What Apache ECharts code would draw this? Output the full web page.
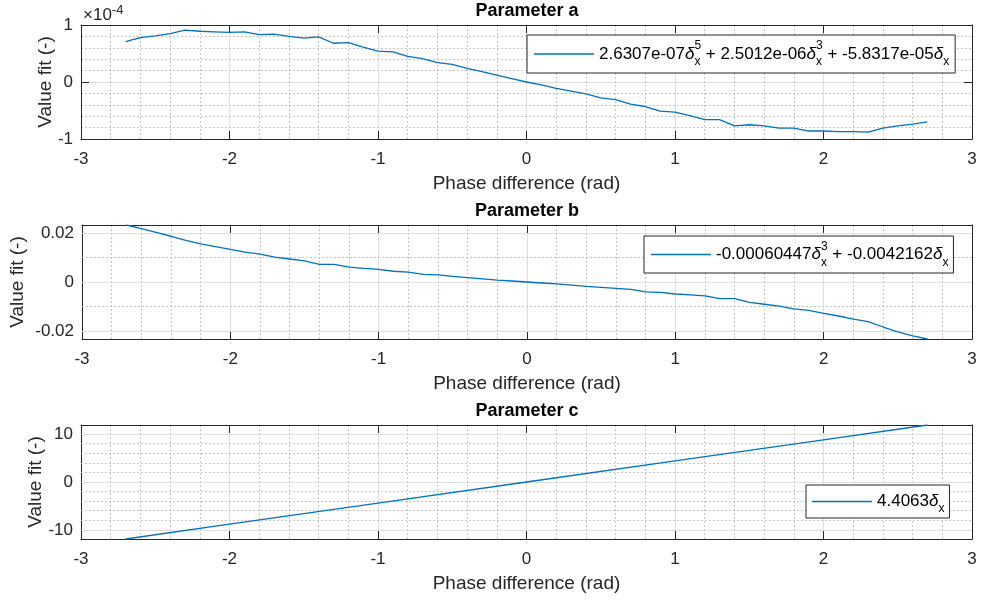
<!DOCTYPE html>
<html>
<head>
<meta charset="utf-8">
<title>Fit parameters vs phase difference</title>
<script src="https://cdn.jsdelivr.net/npm/echarts@6/dist/echarts.min.js"></script>
<style>
  html, body { margin: 0; padding: 0; background: #fff; }
  #chart { width: 983px; height: 600px; }
</style>
</head>
<body>
<div id="chart"></div>
<script>
// sample points (rad)
const PHASE = [-2.7, -2.6, -2.5, -2.4, -2.3, -2.2, -2.1, -2, -1.9, -1.8, -1.7, -1.6, -1.5, -1.4,
  -1.3, -1.2, -1.1, -1, -0.9, -0.8, -0.7, -0.6, -0.5, -0.4, -0.3, -0.2, -0.1, 0,
  0.1, 0.2, 0.3, 0.4, 0.5, 0.6, 0.7, 0.8, 0.9, 1, 1.1, 1.2, 1.3, 1.4,
  1.5, 1.6, 1.7, 1.8, 1.9, 2, 2.1, 2.2, 2.3, 2.4, 2.5, 2.6, 2.7];

// parameter a, in units of 1e-4 (axis shows x10^-4)
const PARAM_A = [0.71, 0.78, 0.81, 0.85, 0.91, 0.89, 0.88, 0.87, 0.88, 0.83, 0.84, 0.80, 0.77, 0.79,
  0.68, 0.69, 0.61, 0.54, 0.53, 0.45, 0.41, 0.34, 0.31, 0.24, 0.18, 0.12, 0.06, 0.00,
  -0.05, -0.11, -0.16, -0.21, -0.28, -0.31, -0.39, -0.43, -0.51, -0.53, -0.59, -0.66, -0.66, -0.77,
  -0.75, -0.77, -0.81, -0.81, -0.86, -0.86, -0.87, -0.87, -0.88, -0.81, -0.77, -0.74, -0.70];

// parameter b
const PARAM_B = [0.0233, 0.0218, 0.0203, 0.0187, 0.0170, 0.0156, 0.0145, 0.0133, 0.0122, 0.0114, 0.0102, 0.0094, 0.0086, 0.0072,
  0.0072, 0.0061, 0.0056, 0.0052, 0.0044, 0.0040, 0.0031, 0.0029, 0.0023, 0.0018, 0.0013, 0.0008, 0.0004, 0,
  -0.0004, -0.0008, -0.0013, -0.0018, -0.0022, -0.0026, -0.0030, -0.0040, -0.0042, -0.0049, -0.0053, -0.0057, -0.0068, -0.0068,
  -0.0083, -0.0091, -0.0099, -0.0110, -0.0116, -0.0128, -0.0139, -0.0152, -0.0162, -0.0184, -0.0204, -0.0220, -0.0233];

// parameter c (straight line)
const PHASE_C = [-2.7, -2, -1, 0, 1, 2, 2.7];
const PARAM_C = [-11.9, -8.8, -4.4, 0, 4.4, 8.8, 11.9];

// tick values for the tight y axes
const B_YTICKS = [-0.02, 0, 0.02];
const B_YMINOR = [-0.015, -0.01, -0.005, 0.005, 0.01, 0.015];
const C_YTICKS = [-10, 0, 10];
const C_YMINOR = [-8, -6, -4, -2, 2, 4, 6, 8];

// fit terms: [coefficient, power of delta_x]
const TERMS_A = [['2.6307e-07', 5], ['2.5012e-06', 3], ['-5.8317e-05', 1]];
const TERMS_B = [['-0.00060447', 3], ['-0.0042162', 1]];
const TERMS_C = [['4.4063', 1]];

const TITLES = ['Parameter a', 'Parameter b', 'Parameter c'];

const FONT = '"Liberation Sans", Arial, sans-serif';
const AX = '#262626';
const BLUE = '#0072BD';
const MAJOR = '#dedede';
const MINOR = '#c6c6c6';
const GRID_TOPS = [25, 225, 425];

function plainName(terms) {
  return terms.map(([c, p]) => c + 'δx' + (p > 1 ? '^' + p : '')).join(' + ');
}
function richName(terms) {
  return terms.map(([c, p]) => {
    let s = '{t|' + c + '}{d|δ}';
    s += p > 1 ? '{subz|x}{sup|' + p + '}' : '{sub|x}';
    return s;
  }).join('{t| + }');
}

const NAME_A = plainName(TERMS_A);
const NAME_B = plainName(TERMS_B);
const NAME_C = plainName(TERMS_C);
const RICH = {};
RICH[NAME_A] = richName(TERMS_A);
RICH[NAME_B] = richName(TERMS_B);
RICH[NAME_C] = richName(TERMS_C);

function legendRich(lh) {
  return {
    t: { fontSize: 17, fontFamily: FONT, color: '#000', lineHeight: lh, verticalAlign: 'middle' },
    d: { fontSize: 17, fontFamily: FONT, color: '#000', fontStyle: 'italic', lineHeight: lh, verticalAlign: 'middle' },
    sub: { fontSize: 12, fontFamily: FONT, color: '#000', lineHeight: 12, verticalAlign: 'bottom' },
    subz: { fontSize: 12, fontFamily: FONT, color: '#000', lineHeight: 12, verticalAlign: 'bottom', width: 0 },
    sup: { fontSize: 12, fontFamily: FONT, color: '#000', lineHeight: 12, verticalAlign: 'top' }
  };
}

function legendBox(name, left, top, lh, pad) {
  return {
    data: [name],
    left: left,
    top: top,
    z: 20,
    orient: 'horizontal',
    icon: 'rect',
    itemWidth: 60,
    itemHeight: 1.3,
    itemStyle: { color: BLUE, borderWidth: 0 },
    selectedMode: false,
    backgroundColor: '#fff',
    borderColor: AX,
    borderWidth: 1,
    borderRadius: 0,
    padding: pad,
    formatter: n => RICH[n],
    textStyle: { fontFamily: FONT, fontSize: 17, color: '#000', lineHeight: lh, rich: legendRich(lh) }
  };
}

function xAxes(i) {
  return [{
    gridIndex: i, type: 'value', min: -3, max: 3, interval: 1,
    name: 'Phase difference (rad)', nameLocation: 'middle', nameGap: 35,
    nameTextStyle: { fontSize: 19, color: AX, fontFamily: FONT },
    axisLine: { show: true, onZero: false, lineStyle: { color: AX } },
    axisTick: { show: true, inside: true, length: 8, lineStyle: { color: AX } },
    axisLabel: { fontSize: 17, color: AX, margin: 12, fontFamily: FONT },
    splitLine: { show: true, lineStyle: { color: MAJOR } },
    minorTick: { show: false, splitNumber: 5 },
    minorSplitLine: { show: true, lineStyle: { color: MINOR, type: [2, 2] } }
  }, {
    gridIndex: i, type: 'value', position: 'top', min: -3, max: 3, interval: 1,
    axisLine: { show: true, onZero: false, lineStyle: { color: AX } },
    axisTick: { show: true, inside: true, length: 8, lineStyle: { color: AX } },
    axisLabel: { show: false },
    splitLine: { show: false }
  }];
}

function yAxes(i, opts) {
  const left = {
    gridIndex: i, type: 'value', position: 'left', min: opts.min, max: opts.max,
    name: 'Value fit (-)', nameLocation: 'middle', nameGap: opts.nameGap, nameMoveOverlap: false,
    nameTextStyle: { fontSize: 19, color: AX, fontFamily: FONT },
    axisLine: { show: true, onZero: false, lineStyle: { color: AX } },
    axisTick: { show: true, inside: true, length: 8, lineStyle: { color: AX } },
    axisLabel: { fontSize: 17, color: AX, margin: 8, fontFamily: FONT },
    splitLine: { show: false }
  };
  const right = {
    gridIndex: i, type: 'value', position: 'right', min: opts.min, max: opts.max,
    axisLine: { show: true, onZero: false, lineStyle: { color: AX } },
    axisTick: { show: true, inside: true, length: 8, lineStyle: { color: AX } },
    axisLabel: { show: false },
    splitLine: { show: false }
  };
  if (opts.ticks) {
    left.axisLabel.customValues = opts.ticks;
    left.axisTick.customValues = opts.ticks;
    right.axisLabel.customValues = opts.ticks;
    right.axisTick.customValues = opts.ticks;
  } else {
    left.interval = opts.interval;
    right.interval = opts.interval;
    left.splitLine = { show: true, lineStyle: { color: MAJOR } };
    left.minorTick = { show: false, splitNumber: 5 };
    left.minorSplitLine = { show: true, lineStyle: { color: MINOR, type: [2, 2] } };
  }
  return [left, right];
}

// y grid lines for the tight axes, drawn through the axis scale
function gridLines(i, major, minor) {
  return {
    type: 'line', xAxisIndex: 2 * i, yAxisIndex: 2 * i, data: [], silent: true, z: 1,
    animation: false,
    markLine: {
      symbol: ['none', 'none'], silent: true, animation: false, label: { show: false }, z: 1,
      data: major.map(v => ({ yAxis: v, lineStyle: { color: MAJOR, type: 'solid', width: 1 } }))
        .concat(minor.map(v => ({ yAxis: v, lineStyle: { color: MINOR, type: [2, 2], width: 1 } })))
    }
  };
}

function dataSeries(i, name, xs, ys) {
  return {
    type: 'line', name: name, xAxisIndex: 2 * i, yAxisIndex: 2 * i,
    data: xs.map((x, k) => [x, ys[k]]),
    symbol: 'none', z: 3, animation: false,
    lineStyle: { width: 1.3, color: BLUE, type: 'solid' },
    itemStyle: { color: BLUE }
  };
}

const chart = echarts.init(document.getElementById('chart'), null, { renderer: 'canvas' });

const option = {
  backgroundColor: '#fff',
  animation: false,
  grid: GRID_TOPS.map(t => ({ left: 81, width: 891, top: t, height: 114 })),
  xAxis: [].concat(xAxes(0), xAxes(1), xAxes(2)),
  yAxis: [].concat(
    yAxes(0, { min: -1, max: 1, interval: 1, nameGap: 26 }),
    yAxes(1, { min: -0.0233, max: 0.0233, ticks: B_YTICKS, nameGap: 55 }),
    yAxes(2, { min: -11.9, max: 11.9, ticks: C_YTICKS, nameGap: 36 })
  ),
  legend: [
    legendBox(NAME_A, 527, 35, 28, [5, 6, 5, 7]),
    legendBox(NAME_B, 644, 236, 28, [4.5, 5, 4.5, 7]),
    legendBox(NAME_C, 806, 485, 26, [3.5, 5, 3.5, 6])
  ],
  graphic: TITLES.map((t, i) => ({
    type: 'text', x: 527, y: GRID_TOPS[i] - 14,
    style: { text: t, font: 'bold 18px ' + FONT, fill: '#000', align: 'center', verticalAlign: 'middle' }
  })).concat([{
    type: 'text', x: 83, y: 4,
    style: {
      text: '{m|×10}{e|-4}', align: 'left', verticalAlign: 'top',
      rich: {
        m: { fontSize: 17, fontFamily: FONT, fill: AX, lineHeight: 22, verticalAlign: 'middle' },
        e: { fontSize: 13, fontFamily: FONT, fill: AX, lineHeight: 10, verticalAlign: 'top' }
      }
    }
  }]),
  series: [
    gridLines(1, B_YTICKS, B_YMINOR),
    gridLines(2, C_YTICKS, C_YMINOR),
    dataSeries(0, NAME_A, PHASE, PARAM_A),
    dataSeries(1, NAME_B, PHASE, PARAM_B),
    dataSeries(2, NAME_C, PHASE_C, PARAM_C)
  ]
};

chart.setOption(option);
</script>
</body>
</html>
